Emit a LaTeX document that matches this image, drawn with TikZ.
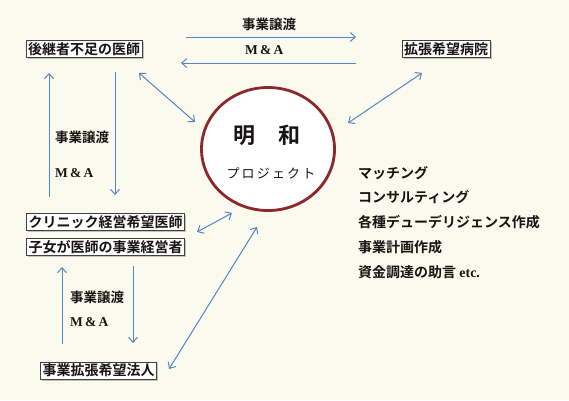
\documentclass[tikz,border=0pt]{standalone}
\usepackage{fontspec}
\newfontfamily\jp{Noto Sans CJK JP}[BoldFont={* Bold}]
\newfontfamily\lser{Liberation Serif}
\usetikzlibrary{arrows.meta,shadows,shapes.geometric}
\definecolor{bgcol}{RGB}{251,250,238}
\definecolor{arrcol}{RGB}{84,134,196}
\definecolor{ringcol}{RGB}{140,40,42}
\definecolor{txtcol}{RGB}{25,20,20}
\tikzset{
  box/.style={draw=black!75, line width=0.7pt, fill=white, inner sep=2pt,
    font=\jp\bfseries\fontsize{14}{14}\selectfont, text=txtcol,
    drop shadow={shadow xshift=1.5pt, shadow yshift=-1.5pt, opacity=0.45}},
  lbl/.style={anchor=west, inner sep=0pt, font=\jp\bfseries\fontsize{13.5}{13.5}\selectfont, text=txtcol},
  mlbl/.style={anchor=west, inner sep=0pt, font=\lser\bfseries\fontsize{13.5}{13.5}\selectfont, text=txtcol},
  item/.style={anchor=west, inner sep=0pt, font=\jp\bfseries\fontsize{14}{14}\selectfont, text=txtcol},
  conn/.style={draw=arrcol, line width=1pt, -{Straight Barb[length=5pt,width=9pt]}},
  dconn/.style={draw=arrcol, line width=1pt, {Straight Barb[length=5pt,width=9pt]}-{Straight Barb[length=5pt,width=9pt]}}
}
\begin{document}
\begin{tikzpicture}[x=1pt,y=-1pt]
\fill[bgcol] (0,0) rectangle (569,400);
\useasboundingbox (0,0) rectangle (569,400);

% nodes
\node[box] (A) at (84,49) {後継者不足の医師};
\node[box] (B) at (446,49) {拡張希望病院};
\node[box] (C) at (105.5,222) {クリニック経営希望医師};
\node[box] (D) at (105.5,247) {子女が医師の事業経営者};
\node[box] (E) at (98.5,370.5) {事業拡張希望法人};
\node[draw=ringcol, line width=2.8pt, fill=white, ellipse, minimum width=133pt, minimum height=123pt,
  drop shadow={shadow xshift=1.2pt, shadow yshift=-1.2pt, opacity=0.3}] (P) at (268,149) {};
\node[inner sep=0pt, font=\jp\bfseries\fontsize{22}{22}\selectfont, text=txtcol] (P1) at (267,135) {明\hspace{24pt}和};
\node[inner sep=0pt, font=\jp\fontsize{13}{13}\selectfont, text=txtcol] (P2) at (271,173) {プ\,ロ\,ジ\,ェ\,ク\,ト};

% labels
\node[lbl] (t1) at (242,24) {事業譲渡};
\node[mlbl] (t2) at (245,50) {M\,\&\,A};
\node[lbl] (l1) at (55,137) {事業譲渡};
\node[mlbl] (l2) at (55,173) {M\,\&\,A};
\node[lbl] (b1) at (70,297) {事業譲渡};
\node[mlbl] (b2) at (70,322) {M\,\&\,A};

% service list
\node[item] (s1) at (358,173) {マッチング};
\node[item] (s2) at (358,197) {コンサルティング};
\node[item] (s3) at (358,222) {各種デューデリジェンス作成};
\node[item] (s4) at (358,247) {事業計画作成};
\node[item] (s5) at (358,272) {資金調達の助言 {\lser\bfseries etc.}};

% connector ends
\coordinate (h1a) at (186,37);  \coordinate (h1b) at (356,37);
\coordinate (h2a) at (356,63);  \coordinate (h2b) at (181,63);
\coordinate (v1a) at (49,197);  \coordinate (v1b) at (49,73);
\coordinate (v2a) at (115,72);  \coordinate (v2b) at (115,195);
\coordinate (v3a) at (62,344);  \coordinate (v3b) at (62,267);
\coordinate (v4a) at (133,266); \coordinate (v4b) at (133,343);
\coordinate (d1a) at (139,73);  \coordinate (d1b) at (195,122);
\coordinate (d2a) at (422,73);  \coordinate (d2b) at (348,123);
\coordinate (d3a) at (197,232); \coordinate (d3b) at (232,213);
\coordinate (d4a) at (169,369); \coordinate (d4b) at (257,227);

% connectors
\draw[conn] (h1a) -- (h1b);
\draw[conn] (h2a) -- (h2b);
\draw[conn] (v1a) -- (v1b);
\draw[conn] (v2a) -- (v2b);
\draw[conn] (v3a) -- (v3b);
\draw[conn] (v4a) -- (v4b);
\draw[dconn] (d1a) -- (d1b);
\draw[dconn] (d2a) -- (d2b);
\draw[dconn] (d3a) -- (d3b);
\draw[dconn] (d4a) -- (d4b);
\end{tikzpicture}
\end{document}
